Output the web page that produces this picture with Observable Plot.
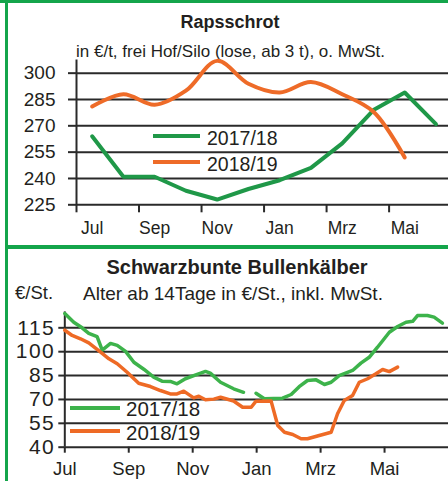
<!DOCTYPE html>
<html><head><meta charset="utf-8">
<script src="https://cdn.jsdelivr.net/npm/d3@7"></script>
<script src="https://cdn.jsdelivr.net/npm/@observablehq/plot@0.6"></script>
<style>
body{margin:0;background:#fff;}
#c{position:relative;width:448px;height:481px;overflow:hidden;background:#fff;font-family:"Liberation Sans",Arial,sans-serif;color:#231f20;}
.a{position:absolute;white-space:nowrap;line-height:1;}
.bar{position:absolute;}
#bot g[aria-label="y-axis tick label"] text{letter-spacing:1.5px;}
</style></head><body><div id="c"></div>
<script>
// ---------- data ----------
const rapsTitle = "Rapsschrot";
const rapsSubtitle = "in €/t, frei Hof/Silo (lose, ab 3 t), o. MwSt.";
const rapsMonthLabels = ["Jul","Sep","Nov","Jan","Mrz","Mai"];
const rapsYTicks = [225,240,255,270,285,300];
const raps1718 = [264, 241, 241, 233, 228, 234, 239, 246, 260, 279, 289, 271];
const raps1819 = [281, 288, 282, 290, 307, 294, 289, 295, 288, 278, 252];

const kalbTitle = "Schwarzbunte Bullenkälber";
const kalbSubtitle = "Alter ab 14Tage in €/St., inkl. MwSt.";
const kalbUnit = "€/St.";
const kalbMonthLabels = ["Jul","Sep","Nov","Jan","Mrz","Mai"];
const kalbYTicks = [40,55,70,85,100,115];
// x = months since 1 July
const kalbX1718 = [0.00,0.28,0.54,0.75,1.01,1.17,1.43,1.64,1.90,2.16,2.47,2.78,3.04,3.30,3.51,3.77,4.14,4.40,4.55,4.87,5.28,5.59,5.80,5.98,6.24,6.81,7.08,7.33,7.59,7.86,8.12,8.33,8.58,9.00,9.26,9.52,9.78,10.15,10.41,10.67,10.88,11.03,11.34,11.55,11.81];
const kalb1718  = [124,118.5,115,111.5,109.5,101,105.2,104,100.2,93.4,89,84,81.5,81.3,79.8,83,85.8,87.6,86.5,80.8,76.7,74.5,null,73.9,70.4,70.8,73.1,78,81.9,82.3,79.4,80.8,85,88.2,92.8,96.5,102.8,112.2,115.8,118.5,119.1,122.7,122.7,121.7,117.9];
const kalbX1819 = [0.00,0.23,0.49,0.75,1.12,1.38,1.64,1.95,2.31,2.68,2.99,3.30,3.51,3.72,4.03,4.19,4.40,4.66,4.87,5.28,5.56,5.83,5.98,6.45,6.66,6.87,7.13,7.39,7.59,7.93,8.33,8.53,8.74,9.00,9.21,9.47,9.73,9.94,10.15,10.41];
const kalb1819  = [113.5,110.2,108.1,105.5,99.7,95.5,92.4,87.1,80.2,78.1,75.6,73.5,73.5,75.2,71,72,69.8,70.2,71.4,69,65.1,65.1,68.9,69.1,53.6,49.4,48,45.3,45.3,47.2,49.4,61,69.3,72.5,80.8,83,86.1,88.8,87.5,90.3];

const seriesNames = ["2017/18","2018/19"];

// ---------- style ----------
const BORDER = "#14a54b";
const GRID = "#2a2a2a";
const INK = "#231f20";
const G1 = "#1f9848", O1 = "#ee6b28";
const G2 = "#3db34b", O2 = "#ee6a25";
const FONT = '"Liberation Sans",Arial,sans-serif';

const c = document.getElementById("c");
function box(css){const d=document.createElement("div");d.className="bar";Object.assign(d.style,css);c.appendChild(d);return d;}
function txt(s,css){const d=document.createElement("div");d.className="a";d.textContent=s;Object.assign(d.style,css);c.appendChild(d);return d;}

// frame
box({left:"0px",top:"0px",width:"448px",height:"3px",background:BORDER});
box({left:"5px",top:"0px",width:"3px",height:"481px",background:BORDER});
box({left:"5px",top:"245px",width:"443px",height:"4px",background:BORDER});

// ---------- top chart ----------
txt(rapsTitle,{left:"230px",top:"12.7px",transform:"translateX(-50%)",fontSize:"18px",fontWeight:"bold"});
txt(rapsSubtitle,{left:"76px",top:"42.8px",fontSize:"17px"});

const topDiv = document.createElement("div");
topDiv.style.position="absolute"; topDiv.style.left="0px"; topDiv.style.top="55px";
c.appendChild(topDiv);
const monthStarts = [0,2,4,6,8,10];
const topPlot = Plot.plot({
  width:448, height:190,
  marginLeft:76, marginRight:0, marginTop:4.5, marginBottom:40.7,
  x:{domain:[0,11.9]},
  y:{domain:[225,307.5]},
  style:{fontFamily:FONT, fontSize:"19px", color:INK, background:"transparent", overflow:"visible"},
  marks:[
    Plot.gridY(rapsYTicks,{stroke:GRID, strokeWidth:2, strokeOpacity:1}),
    Plot.axisY(rapsYTicks,{tickSize:8, tickPadding:13, stroke:GRID, strokeWidth:2, fill:INK, label:null}),
    Plot.axisX(monthStarts,{tickSize:8, stroke:GRID, strokeWidth:2, tickFormat:()=>"", label:null}),
    Plot.axisX(monthStarts.map(m=>m+0.5),{tickSize:0, tickPadding:17, fontSize:17.5, fill:INK, tickFormat:(d)=>rapsMonthLabels[Math.round((d-0.5)/2)], label:null}),
    Plot.ruleX([0],{stroke:GRID, strokeWidth:2}),
    Plot.line(raps1718,{x:(d,i)=>i+0.5, y:d=>d, stroke:G1, strokeWidth:4}),
    Plot.line(raps1819,{x:(d,i)=>i+0.5, y:d=>d, stroke:O1, strokeWidth:4, curve:"catmull-rom"})
  ]
});
topDiv.appendChild(topPlot);

// legend top
box({left:"153px",top:"134px",width:"47px",height:"4px",background:G1});
box({left:"153px",top:"159.5px",width:"47px",height:"4px",background:O1});
txt(seriesNames[0],{left:"207px",top:"129.2px",fontSize:"19.5px"});
txt(seriesNames[1],{left:"207px",top:"155.2px",fontSize:"19.5px"});

// ---------- bottom chart ----------
txt(kalbTitle,{left:"237px",top:"257.4px",transform:"translateX(-50%)",fontSize:"20px",fontWeight:"bold"});
txt(kalbUnit,{left:"15px",top:"284.3px",fontSize:"18.5px"});
txt(kalbSubtitle,{left:"83px",top:"284.2px",fontSize:"19px"});

const botDiv = document.createElement("div");
botDiv.id="bot"; botDiv.style.position="absolute"; botDiv.style.left="0px"; botDiv.style.top="305px";
c.appendChild(botDiv);
const botPlot = Plot.plot({
  width:448, height:176,
  marginLeft:64.3, marginRight:0, marginTop:6.4, marginBottom:34.3,
  x:{domain:[0,12]},
  y:{domain:[40,125]},
  style:{fontFamily:FONT, fontSize:"21px", color:INK, background:"transparent", overflow:"visible"},
  marks:[
    Plot.gridY(kalbYTicks,{stroke:GRID, strokeWidth:2, strokeOpacity:1}),
    Plot.axisY(kalbYTicks,{tickSize:6, tickPadding:3.5, stroke:GRID, strokeWidth:2, fill:INK, label:null}),
    Plot.axisX(monthStarts,{tickSize:6, tickPadding:9, stroke:GRID, strokeWidth:2, fill:INK, fontSize:18.5, tickFormat:(d)=>kalbMonthLabels[d/2], label:null}),
    Plot.ruleX([0],{stroke:GRID, strokeWidth:2}),
    Plot.line(kalb1718,{x:(d,i)=>kalbX1718[i], y:d=>d, stroke:G2, strokeWidth:3.5}),
    Plot.line(kalb1819,{x:(d,i)=>kalbX1819[i], y:d=>d, stroke:O2, strokeWidth:3.5})
  ]
});
botDiv.appendChild(botPlot);

// legend bottom
box({left:"70px",top:"406.3px",width:"50px",height:"4px",background:G2});
box({left:"70px",top:"428.7px",width:"50px",height:"4px",background:O2});
txt(seriesNames[0],{left:"126px",top:"399px",fontSize:"20.5px"});
txt(seriesNames[1],{left:"126px",top:"423px",fontSize:"20.5px"});
</script></body></html>
